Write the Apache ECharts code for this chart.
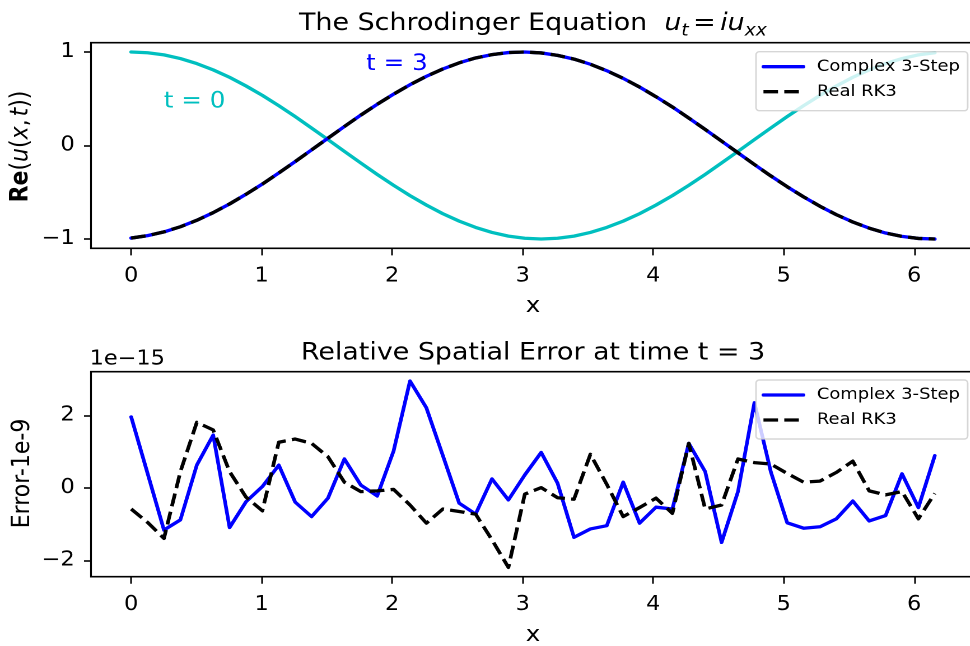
<!DOCTYPE html>
<html>
<head>
<meta charset="utf-8">
<script src="https://cdn.jsdelivr.net/npm/echarts@6/dist/echarts.min.js"></script>
<style>
  html, body { margin: 0; padding: 0; background: #fff; overflow: hidden; width: 970px; height: 646px; }
  /* the figure is laid out on a narrower canvas and widened horizontally */
  #chart { width: 866px; height: 646px; transform: scaleX(1.12); transform-origin: 0 0; }
</style>
</head>
<body>
<div id="chart"></div>
<script>
// ---- data -------------------------------------------------------------
// spatial grid (50 points on [0, 2*pi))
const xGrid = [0.0000, 0.1257, 0.2513, 0.3770, 0.5027, 0.6283, 0.7540, 0.8796, 1.0053, 1.1310,
               1.2566, 1.3823, 1.5080, 1.6336, 1.7593, 1.8850, 2.0106, 2.1363, 2.2619, 2.3876,
               2.5133, 2.6389, 2.7646, 2.8903, 3.0159, 3.1416, 3.2673, 3.3929, 3.5186, 3.6442,
               3.7699, 3.8956, 4.0212, 4.1469, 4.2726, 4.3982, 4.5239, 4.6496, 4.7752, 4.9009,
               5.0265, 5.1522, 5.2779, 5.4035, 5.5292, 5.6549, 5.7805, 5.9062, 6.0319, 6.1575];

// Re(u) at t = 0
const reAtT0 = [1.000, 0.992, 0.969, 0.930, 0.876, 0.809, 0.729, 0.637, 0.536, 0.426,
                0.309, 0.187, 0.063, -0.063, -0.187, -0.309, -0.426, -0.536, -0.637, -0.729,
                -0.809, -0.876, -0.930, -0.969, -0.992, -1.000, -0.992, -0.969, -0.930, -0.876,
                -0.809, -0.729, -0.637, -0.536, -0.426, -0.309, -0.187, -0.063, 0.063, 0.187,
                0.309, 0.426, 0.536, 0.637, 0.729, 0.809, 0.876, 0.930, 0.969, 0.992];

// Re(u) at t = 3 (both schemes agree to plotting precision)
const reAtT3 = [-0.990, -0.964, -0.924, -0.869, -0.800, -0.718, -0.625, -0.522, -0.412, -0.294,
                -0.172, -0.047, 0.078, 0.203, 0.325, 0.441, 0.549, 0.650, 0.740, 0.818,
                0.884, 0.936, 0.972, 0.994, 1.000, 0.990, 0.964, 0.924, 0.869, 0.800,
                0.718, 0.625, 0.522, 0.412, 0.294, 0.172, 0.047, -0.078, -0.203, -0.325,
                -0.441, -0.549, -0.650, -0.740, -0.818, -0.884, -0.936, -0.972, -0.994, -1.000];

// relative spatial error at t = 3, in units of 1e-15
const errComplex = [1.96, 0.40, -1.16, -0.88, 0.63, 1.46, -1.09, -0.38, 0.04, 0.63,
                    -0.39, -0.79, -0.28, 0.80, 0.08, -0.22, 1.02, 2.95, 2.21, 0.90,
                    -0.42, -0.72, 0.25, -0.33, 0.36, 0.98, 0.13, -1.36, -1.13, -1.04,
                    0.16, -0.97, -0.53, -0.58, 1.23, 0.45, -1.50, -0.10, 2.35, 0.45,
                    -0.96, -1.11, -1.07, -0.85, -0.36, -0.91, -0.76, 0.39, -0.54, 0.89];
const errRK3 = [-0.58, -0.95, -1.39, 0.45, 1.81, 1.60, 0.45, -0.25, -0.63, 1.26,
                1.35, 1.23, 0.86, 0.16, -0.10, -0.08, -0.04, -0.47, -0.97, -0.58,
                -0.65, -0.72, -1.43, -2.19, -0.17, 0.01, -0.27, -0.31, 0.93, 0.10,
                -0.79, -0.54, -0.28, -0.70, 1.23, -0.58, -0.47, 0.80, 0.70, 0.66,
                0.40, 0.16, 0.19, 0.43, 0.74, -0.08, -0.19, -0.10, -0.85, -0.15];

const xTicks = [0, 1, 2, 3, 4, 5, 6];
const reTicks = [-1, 0, 1];
const errTicks = [-2, 0, 2];
const schemeNames = ['Complex 3-Step', 'Real RK3'];
const initialName = 'Initial condition';

// ---- layout -----------------------------------------------------------
const SX = 1.12;                 // horizontal widening applied by CSS
const FONT = 'DejaVu Sans';
const GL = 81.25, GW = 789.25;   // axes left / width (unwidened px)
const TOP_GRID = { top: 42.65, height: 205.7 };
const BOT_GRID = { top: 371.7, height: 205 };
const LW = 3.3;
const DASH = [13, 5.6];
const CYAN = '#00bfbf', BLUE = '#0000ff', BLACK = '#000000';

function zip(xs, ys) { return xs.map((x, i) => [x, ys[i]]); }
function padded(arrs) {
  let lo = Infinity, hi = -Infinity;
  arrs.forEach(a => a.forEach(v => { lo = Math.min(lo, v); hi = Math.max(hi, v); }));
  const m = (hi - lo) * 0.05;
  return [lo - m, hi + m];
}
const fmt = v => (v < 0 ? '\u2212' + (-v) : String(v));

const xRange = padded([xGrid]);
const reRange = padded([reAtT0, reAtT3]);
const errRange = padded([errComplex, errRK3]);

function gridDef(g) {
  return {
    left: GL, width: GW, top: g.top, height: g.height,
    show: true, borderColor: '#000', borderWidth: 1.6, backgroundColor: 'transparent',
    containLabel: false, outerBoundsMode: 'none'
  };
}
function xAxisDef(idx) {
  return {
    type: 'value', gridIndex: idx, min: xRange[0], max: xRange[1], position: 'bottom',
    axisLine: { show: false, onZero: false },
    splitLine: { show: false },
    axisTick: { show: true, customValues: xTicks, length: 7, lineStyle: { color: '#000', width: 1.5 } },
    axisLabel: { customValues: xTicks, margin: 18, fontFamily: FONT, fontSize: 20, color: '#000', formatter: fmt }
  };
}
function yAxisDef(idx, range, ticks) {
  return {
    type: 'value', gridIndex: idx, min: range[0], max: range[1], position: 'left',
    axisLine: { show: false, onZero: false },
    splitLine: { show: false },
    axisTick: { show: true, customValues: ticks, length: 7 / SX, lineStyle: { color: '#000', width: 1.6 } },
    axisLabel: { customValues: ticks, margin: 14.5, fontFamily: FONT, fontSize: 20, color: '#000', formatter: fmt }
  };
}
function legendDef(top) {
  return {
    data: schemeNames, orient: 'vertical', align: 'left',
    left: 675, top: top,
    itemWidth: 35.7, itemHeight: 16, itemGap: 9,
    padding: [7, 7, 11, 5],
    backgroundColor: 'rgba(255,255,255,0.8)',
    borderColor: 'rgba(204,204,204,0.8)', borderWidth: 1.4, borderRadius: 3,
    selectedMode: false,
    textStyle: { fontFamily: FONT, fontSize: 16, color: '#000', padding: [0, 0, 0, 7] },
    lineStyle: { width: LW },
    itemStyle: { opacity: 0 }
  };
}
function lineSeries(name, idx, ys, color, dashed) {
  return {
    type: 'line', name: name, xAxisIndex: idx, yAxisIndex: idx,
    data: zip(xGrid, ys), symbol: 'none', showSymbol: false, silent: true,
    lineStyle: { color: color, width: LW, type: dashed ? DASH : 'solid', cap: dashed ? 'butt' : 'round', join: 'round' },
    emphasis: { disabled: true }
  };
}

const chart = echarts.init(document.getElementById('chart'), null, { renderer: 'canvas', devicePixelRatio: 2 });
chart.setOption({
  animation: false,
  grid: [gridDef(TOP_GRID), gridDef(BOT_GRID)],
  xAxis: [xAxisDef(0), xAxisDef(1)],
  yAxis: [yAxisDef(0, reRange, reTicks), yAxisDef(1, errRange, errTicks)],
  legend: [legendDef(51.7), legendDef(380)],
  series: [
    lineSeries(initialName, 0, reAtT0, CYAN, false),
    lineSeries(schemeNames[0], 0, reAtT3, BLUE, false),
    lineSeries(schemeNames[1], 0, reAtT3, BLACK, true),
    lineSeries(schemeNames[0], 1, errComplex, BLUE, false),
    lineSeries(schemeNames[1], 1, errRK3, BLACK, true)
  ]
});

// ---- texts with mixed styles (titles, axis labels, annotations) --------
const mctx = document.createElement('canvas').getContext('2d');
function runFont(r) {
  return (r.italic ? 'italic ' : '') + (r.bold ? 'bold ' : '') + r.size + 'px "' + FONT + '"';
}
function textRuns(runs, x, baseline, anchor, color, rotation) {
  let total = 0;
  const widths = runs.map(r => { mctx.font = runFont(r); const w = mctx.measureText(r.t).width + (r.gap || 0); total += w; return w; });
  let cursor = anchor === 'center' ? -total / 2 : 0;
  const children = runs.map((r, i) => {
    const el = {
      type: 'text', x: cursor, y: (r.dy || 0) - 0.297 * r.size, silent: true,
      style: {
        text: r.t, fontFamily: FONT, fontSize: r.size,
        fontStyle: r.italic ? 'italic' : 'normal', fontWeight: r.bold ? 'bold' : 'normal',
        fill: r.color || color, align: 'left', verticalAlign: 'middle'
      }
    };
    cursor += widths[i];
    return el;
  });
  return { type: 'group', x: x, y: baseline, rotation: rotation || 0, silent: true, children: children };
}

const cx = GL + GW / 2;
const p0 = chart.convertToPixel({ xAxisIndex: 0, yAxisIndex: 0 }, [0.25, 0.4]);
const p3 = chart.convertToPixel({ xAxisIndex: 0, yAxisIndex: 0 }, [1.8, 0.8]);

chart.setOption({
  graphic: [
    textRuns([
      { t: 'The Schrodinger Equation  ', size: 24 },
      { t: 'u', size: 24, italic: true },
      { t: 't', size: 16.8, italic: true, dy: 5, gap: 4 },
      { t: '=', size: 24, gap: 4 },
      { t: 'iu', size: 24, italic: true },
      { t: 'xx', size: 16.8, italic: true, dy: 5 }
    ], cx, 31, 'center', '#000'),
    textRuns([{ t: 'Relative Spatial Error at time t = 3', size: 24 }], cx, 360.5, 'center', '#000'),
    textRuns([
      { t: 'Re', size: 22, bold: true },
      { t: '(', size: 22 },
      { t: 'u', size: 22, italic: true },
      { t: '(', size: 22 },
      { t: 'x', size: 22, italic: true },
      { t: ',', size: 22, gap: 3 },
      { t: 't', size: 22, italic: true },
      { t: '))', size: 22 }
    ], 25.3, 146.5, 'center', '#000', Math.PI / 2),
    textRuns([{ t: 'Error-1e-9', size: 22 }], 26.8, 473.5, 'center', '#000', Math.PI / 2),
    textRuns([{ t: '1e\u221215', size: 20 }], 80, 365, 'left', '#000'),
    textRuns([{ t: 'x', size: 22 }], cx, 313, 'center', '#000'),
    textRuns([{ t: 'x', size: 22 }], cx, 641.7, 'center', '#000'),
    textRuns([{ t: 't = 0', size: 22 }], p0[0], p0[1], 'left', CYAN),
    textRuns([{ t: 't = 3', size: 22 }], p3[0], p3[1], 'left', BLUE)
  ]
});
</script>
</body>
</html>
